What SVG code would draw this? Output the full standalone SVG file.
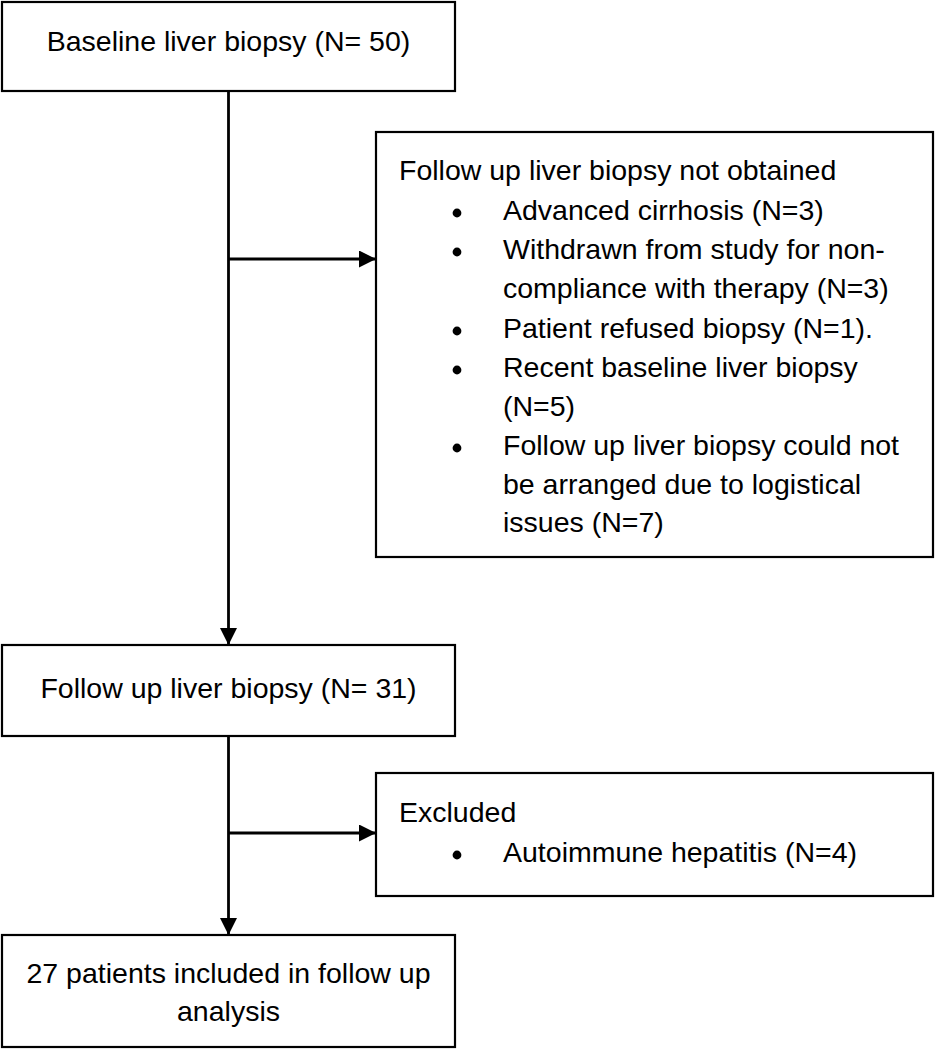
<svg xmlns="http://www.w3.org/2000/svg" width="935" height="1050" viewBox="0 0 935 1050">
<style>
.box{fill:#fff;stroke:#000;stroke-width:2.2}
.t{font-family:"Liberation Sans",Arial,sans-serif;font-size:28.5px;fill:#000}
.c{text-anchor:middle}
.conn{stroke:#000;stroke-width:2.8;fill:none}
.dot{fill:#000}
</style>
<defs>
<marker id="ah" markerUnits="userSpaceOnUse" markerWidth="17" markerHeight="17" refX="17" refY="8.5" orient="auto">
<path d="M0,0 L17,8.5 L0,17 Z" fill="#000"/>
</marker>
</defs>
<rect width="935" height="1050" fill="#fff"/>
<g id="connectors">
<line class="conn" x1="228.5" y1="91" x2="228.5" y2="645" marker-end="url(#ah)"/>
<line class="conn" x1="228.5" y1="259" x2="376" y2="259" marker-end="url(#ah)"/>
<line class="conn" x1="228.5" y1="736" x2="228.5" y2="935" marker-end="url(#ah)"/>
<line class="conn" x1="228.5" y1="833" x2="376" y2="833" marker-end="url(#ah)"/>
</g>
<g id="baseline">
<rect class="box" x="2" y="2" width="453" height="89"/>
<text class="t c" x="228.5" y="51">Baseline liver biopsy (N= 50)</text>
</g>
<g id="not-obtained">
<rect class="box" x="376" y="132" width="557" height="425"/>
<text class="t" x="399" y="180">Follow up liver biopsy not obtained</text>
<circle class="dot" cx="457" cy="213" r="4.4"/>
<text class="t" x="503" y="220">Advanced cirrhosis (N=3)</text>
<circle class="dot" cx="457" cy="252" r="4.4"/>
<text class="t" x="503" y="259">Withdrawn from study for non-</text>
<text class="t" x="503" y="298">compliance with therapy (N=3)</text>
<circle class="dot" cx="457" cy="331" r="4.4"/>
<text class="t" x="503" y="338">Patient refused biopsy (N=1).</text>
<circle class="dot" cx="457" cy="370" r="4.4"/>
<text class="t" x="503" y="377">Recent baseline liver biopsy</text>
<text class="t" x="503" y="416">(N=5)</text>
<circle class="dot" cx="457" cy="448" r="4.4"/>
<text class="t" x="503" y="455">Follow up liver biopsy could not</text>
<text class="t" x="503" y="494">be arranged due to logistical</text>
<text class="t" x="503" y="532">issues (N=7)</text>
</g>
<g id="followup">
<rect class="box" x="2" y="645" width="453" height="91"/>
<text class="t c" x="228.5" y="698">Follow up liver biopsy (N= 31)</text>
</g>
<g id="excluded">
<rect class="box" x="376" y="773" width="557" height="123"/>
<text class="t" x="399" y="822">Excluded</text>
<circle class="dot" cx="457" cy="855" r="4.4"/>
<text class="t" x="503" y="862">Autoimmune hepatitis (N=4)</text>
</g>
<g id="included">
<rect class="box" x="2" y="935" width="453" height="112"/>
<text class="t c" x="228.5" y="983">27 patients included in follow up</text>
<text class="t c" x="228.5" y="1021">analysis</text>
</g>
</svg>
